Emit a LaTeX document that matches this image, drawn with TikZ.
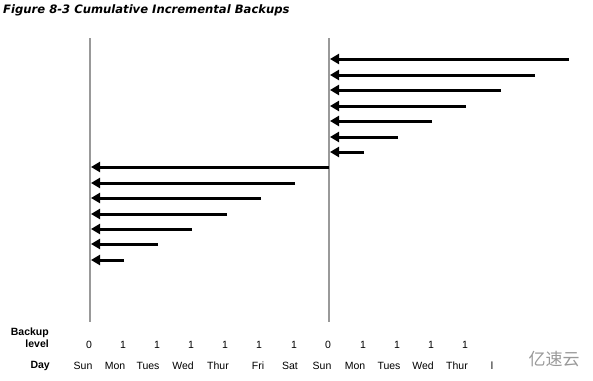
\documentclass[tikz,border=0pt]{standalone}
\usepackage{fontspec}
\setmainfont{Liberation Sans}
\newfontfamily\titlefont{DejaVu Sans}
\newfontfamily\cjkfont{Noto Sans CJK SC}
\usetikzlibrary{arrows.meta}
\begin{document}
\begin{tikzpicture}[x=1pt,y=-1pt,
  axisline/.style={draw=black!40, line width=2},
  bkarrow/.style={draw=black, line width=3, -{Triangle[length=9,width=10]}},
  lbl/.style={font=\fontsize{10.5}{12}\selectfont, inner sep=0},
  hdr/.style={font=\fontsize{10.5}{12}\selectfont\bfseries, inner sep=0, align=right}]
\useasboundingbox (0,0) rectangle (593,380);
\node[anchor=west, inner sep=0, font=\titlefont\fontsize{11.6}{13}\selectfont\bfseries\itshape] (title) at (3,10) {Figure 8-3 Cumulative Incremental Backups};
% vertical lines
\coordinate (L1t) at (90,38); \coordinate (L1b) at (90,322);
\coordinate (L2t) at (329,38); \coordinate (L2b) at (329,322);
\draw[axisline] (L1t) -- (L1b);
\draw[axisline] (L2t) -- (L2b);
% right group arrows
\foreach \y/\x [count=\i] in {59/569,75/535,90/501,106/466,121/432,137/398,152/364}{
  \coordinate (rs\i) at (\x,\y);
  \coordinate (re\i) at (330,\y);
  \draw[bkarrow] (rs\i) -- (re\i);
}
% left group arrows
\foreach \y/\x [count=\i] in {167/329,183/295,198/261,214/227,229/192,244/158,260/124}{
  \coordinate (ls\i) at (\x,\y);
  \coordinate (le\i) at (91,\y);
  \draw[bkarrow] (ls\i) -- (le\i);
}
% labels
\node[hdr, anchor=north east] (bl) at (49,328) {Backup\\level};
\node[hdr, anchor=east] (day) at (50,366) {Day};
\foreach \x/\t [count=\i] in {89/0,123/1,157/1,191/1,225/1,259/1,294/1,328/0,363/1,397/1,431/1,465/1}{
  \node[lbl] (lv\i) at (\x,345) {\t};
}
\foreach \x/\t [count=\i] in {83/Sun,115/Mon,148/Tues,183/Wed,218/Thur,258/Fri,290/Sat,322/Sun,355/Mon,389/Tues,423/Wed,457/Thur,492/l}{
  \node[lbl] (d\i) at (\x,366) {\t};
}
\node[inner sep=0, text=black!40, font=\cjkfont\fontsize{17}{18}\selectfont] (wm) at (554,359) {亿速云};
\end{tikzpicture}
\end{document}
